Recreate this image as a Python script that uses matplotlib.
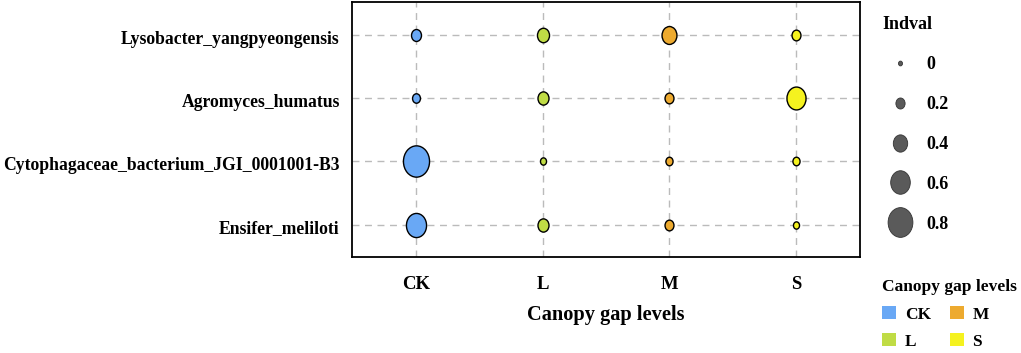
import numpy as np
import matplotlib.pyplot as plt
from matplotlib.lines import Line2D
from matplotlib.patches import Patch
from matplotlib.path import Path
from matplotlib.markers import MarkerStyle
from matplotlib.transforms import Affine2D, ScaledTranslation

plt.rcParams['font.family'] = ['Liberation Serif', 'DejaVu Serif']
plt.rcParams['font.weight'] = 'bold'

# data
species = ["Ensifer_meliloti", "Cytophagaceae_bacterium_JGI_0001001-B3",
           "Agromyces_humatus", "Lysobacter_yangpyeongensis"]
levels = ["CK", "L", "M", "S"]
colors = ["#69A8F5", "#C0DC45", "#EDAA2F", "#F5F21F"]
# indval per species (rows) x level (cols)
ensifer = [0.62, 0.27, 0.19, 0.08]
cytoph = [0.85, 0.08, 0.12, 0.12]
agromyces = [0.15, 0.27, 0.19, 0.58]
lysobacter = [0.23, 0.31, 0.42, 0.19]
legend_vals = [0, 0.2, 0.4, 0.6, 0.8]

# points in the source are slightly taller than wide
ASPECT = 1.2
ell = Path.unit_circle().transformed(Affine2D().scale(1.0, ASPECT))
ell_marker = MarkerStyle(ell)

def size_pt(v):
    # marker height in points (width in px = 4 + 26*v, dpi 100)
    return (4 + 26 * np.asarray(v)) * 0.72 * ASPECT

fig = plt.figure(figsize=(10.21, 3.53), dpi=100)
ax = fig.add_axes([0.345, 0.272, 0.497, 0.722])

rows = [ensifer, cytoph, agromyces, lysobacter]
for i, vals in enumerate(rows):
    for j, v in enumerate(vals):
        ax.scatter(j + 1, i + 1, s=size_pt(v) ** 2, c=colors[j], marker=ell_marker,
                   edgecolors="black", linewidths=1.0, zorder=3)

ax.set_xlim(0.5, 4.5)
ax.set_ylim(0.49, 4.52)
ax.set_xticks(range(1, 5))
ax.set_xticklabels(levels, fontsize=13.5, fontweight='bold')
ax.set_yticks(range(1, 5))
ax.set_yticklabels(species, fontsize=12.7, fontweight='bold')
ax.tick_params(axis='y', length=0, pad=9)
ax.tick_params(axis='x', length=0, pad=14)
shift = ScaledTranslation(0, -2 / 100, fig.dpi_scale_trans)
for lab in ax.get_yticklabels():
    lab.set_transform(lab.get_transform() + shift)
ax.grid(True, linestyle=(0, (5, 4)), color="#bbbbbb", linewidth=1.0, zorder=0)
for sp in ax.spines.values():
    sp.set_linewidth(1.3)
ax.set_xlabel("Canopy gap levels", fontsize=14.7, fontweight='bold', labelpad=8)

# size legend
size_handles = [Line2D([], [], marker=ell_marker, linestyle='', markersize=size_pt(v),
                       markerfacecolor="#5a5a5a", markeredgecolor="#333333",
                       markeredgewidth=0.6) for v in legend_vals]
leg1 = fig.legend(size_handles, [str(v) for v in legend_vals], title="Indval",
                  loc='upper left', bbox_to_anchor=(0.857, 0.975), frameon=False,
                  prop={'size': 13, 'weight': 'bold'}, labelspacing=1.27,
                  handletextpad=0.45, title_fontproperties={'size': 13, 'weight': 'bold'},
                  alignment='left', borderaxespad=0)

# colour legend
col_handles = [Patch(facecolor=c, edgecolor='none') for c in colors]
leg2 = fig.legend(col_handles, levels, title="Canopy gap levels", ncol=2,
                  loc='upper left', bbox_to_anchor=(0.864, 0.21), frameon=False,
                  prop={'size': 12.5, 'weight': 'bold'}, handlelength=0.8,
                  handleheight=0.8, handletextpad=0.5, columnspacing=1.1,
                  labelspacing=0.6, title_fontproperties={'size': 12.5, 'weight': 'bold'},
                  alignment='left', borderaxespad=0, borderpad=0)
leg2._legend_box.sep = 8

fig.savefig("out.png", dpi=100)
